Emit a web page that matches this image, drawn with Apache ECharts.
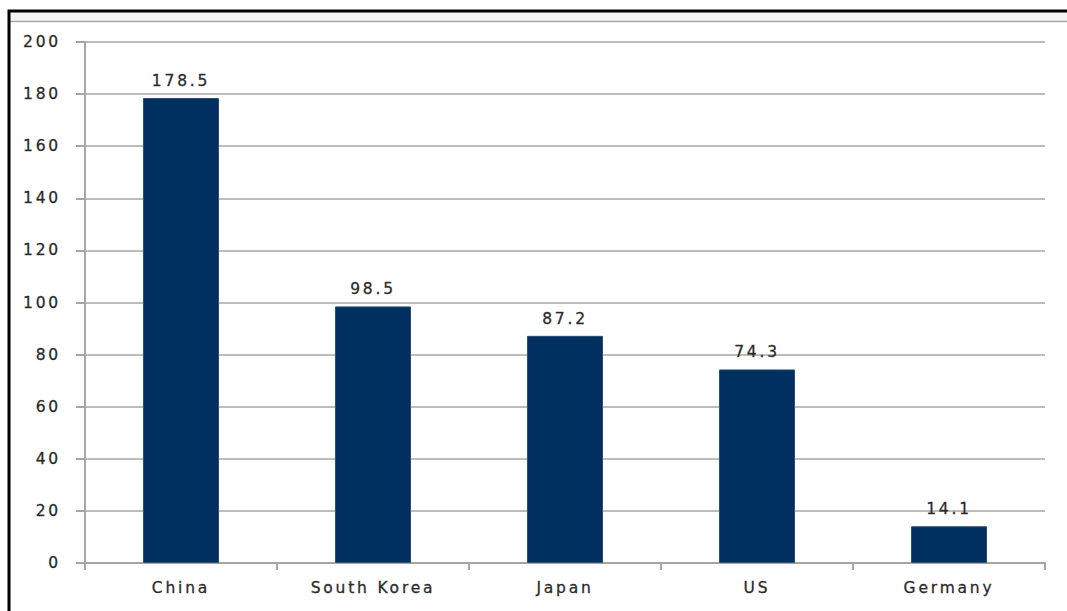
<!DOCTYPE html>
<html><head><meta charset="utf-8">
<script src="https://cdn.jsdelivr.net/npm/echarts@6/dist/echarts.min.js"></script>
<style>html,body{margin:0;padding:0;background:#fff}#c{width:1067px;height:611px}#c text{letter-spacing:2.8px}</style>
</head><body><div id="c"></div>
<script>
const categories = ['China', 'South Korea', 'Japan', 'US', 'Germany'];
const values = [178.5, 98.5, 87.2, 74.3, 14.1];
const yTicks = [0, 20, 40, 60, 80, 100, 120, 140, 160, 180, 200];

const chart = echarts.init(document.getElementById('c'), null, {renderer: 'svg'});
const font = 'DejaVu Sans';
const txt = {color: '#2a2a2a', fontFamily: font, fontSize: 15.5, textBorderColor: '#3a3a3a', textBorderWidth: 0.3};
chart.setOption({
  animation: false,
  backgroundColor: '#fff',
  graphic: [
    {type: 'rect', z: 0, shape: {x: 9, y: 12, width: 1070, height: 9}, style: {fill: '#f5f5f5'}},
    {type: 'line', z: 1, shape: {x1: 9, y1: 21.5, x2: 1067, y2: 21.5}, style: {stroke: '#a8a8a8', lineWidth: 1.5}},
    {type: 'rect', z: 2, shape: {x: 9, y: 11, width: 1080, height: 700}, style: {fill: 'none', stroke: '#000', lineWidth: 3}}
  ],
  grid: {left: 85, right: 22, top: 42, bottom: 48, containLabel: false},
  xAxis: {
    type: 'category',
    data: categories,
    axisLine: {lineStyle: {color: '#a6a6a6', width: 2}},
    axisTick: {show: true, length: 7, alignWithLabel: false, lineStyle: {color: '#a6a6a6', width: 2}},
    axisLabel: Object.assign({margin: 17}, txt)
  },
  yAxis: {
    type: 'value',
    min: yTicks[0], max: yTicks[yTicks.length - 1], interval: 20,
    axisLine: {show: true, lineStyle: {color: '#a6a6a6', width: 2}},
    axisTick: {show: true, inside: false, length: 9, lineStyle: {color: '#a6a6a6', width: 2}},
    axisLabel: Object.assign({margin: 24}, txt),
    splitLine: {lineStyle: {color: '#a6a6a6', width: 1.5}}
  },
  series: [{
    type: 'bar',
    data: values,
    barWidth: 76,
    itemStyle: {color: '#003060', borderColor: '#2a4f78', borderWidth: 1},
    label: Object.assign({show: true, position: 'top', distance: 9}, txt)
  }]
});
</script></body></html>
